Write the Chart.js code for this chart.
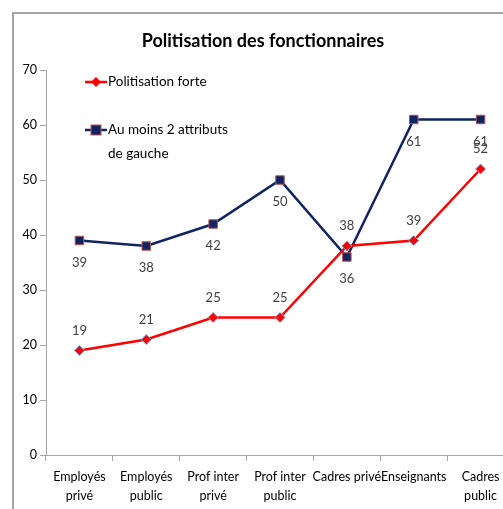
<!DOCTYPE html>
<html>
<head>
<meta charset="utf-8">
<script src="https://cdn.jsdelivr.net/npm/chart.js@4.4.0/dist/chart.umd.min.js"></script>
<style>
  html, body { margin: 0; padding: 0; background: #fff; overflow: hidden; width: 503px; height: 509px; }
  #box { position: absolute; left: 12px; top: 12px; width: 512px; height: 502px; border: 2px solid #a6a6a6; }
  canvas { display: block; }
</style>
</head>
<body>
<div id="box"><canvas id="chart" width="512" height="502"></canvas></div>
<script>
'use strict';

const categories = [
  ['Employés', 'privé'],
  ['Employés', 'public'],
  ['Prof inter', 'privé'],
  ['Prof inter', 'public'],
  'Cadres privé',
  'Enseignants',
  ['Cadres', 'public']
];
const politisationForte = [19, 21, 25, 25, 38, 39, 52];
const attributsGauche = [39, 38, 42, 50, 36, 61, 61];
const yTicks = [0, 10, 20, 30, 40, 50, 60, 70];

const FONT = "Lato, 'Open Sans', sans-serif";

// data labels + legend + title, drawn by hand
const extras = {
  id: 'extras',
  afterDatasetsDraw(chart) {
    let ctx = chart.ctx;
    ctx.save();
    ctx.font = '13px ' + FONT;
    ctx.fillStyle = '#404040';
    ctx.textAlign = 'center';
    ctx.textBaseline = 'middle';
    chart.getDatasetMeta(0).data.forEach((pt, i) => {
      ctx.fillText(politisationForte[i], pt.x, pt.y - 20);
    });
    chart.getDatasetMeta(1).data.forEach((pt, i) => {
      ctx.fillText(attributsGauche[i], pt.x, pt.y + 22);
    });

    // title
    ctx.fillStyle = '#000';
    ctx.font = 'bold 18px ' + FONT;
    ctx.fillText('Politisation des fonctionnaires', 249, 27);

    // legend
    let lx = 71, ly1 = 68, ly2 = 116;
    ctx.lineWidth = 2.5;
    ctx.strokeStyle = '#ff0000';
    ctx.beginPath(); ctx.moveTo(lx, ly1); ctx.lineTo(lx + 22, ly1); ctx.stroke();
    ctx.fillStyle = '#ff0000';
    ctx.beginPath();
    ctx.moveTo(lx + 11, ly1 - 5); ctx.lineTo(lx + 16, ly1); ctx.lineTo(lx + 11, ly1 + 5); ctx.lineTo(lx + 6, ly1);
    ctx.closePath(); ctx.fill();

    ctx.strokeStyle = '#0f2463';
    ctx.beginPath(); ctx.moveTo(lx, ly2); ctx.lineTo(lx + 22, ly2); ctx.stroke();
    ctx.fillStyle = '#0f2463';
    ctx.fillRect(lx + 6, ly2 - 5, 10, 10);
    ctx.lineWidth = 1;
    ctx.strokeStyle = '#c0504d';
    ctx.strokeRect(lx + 6, ly2 - 5, 10, 10);

    ctx.fillStyle = '#000';
    ctx.font = '13.5px ' + FONT;
    ctx.textAlign = 'left';
    ctx.fillText('Politisation forte', lx + 23, ly1);
    ctx.fillText('Au moins 2 attributs', lx + 23, ly2);
    ctx.fillText('de gauche', lx + 23, ly2 + 24);
    ctx.restore();
  }
};

new Chart(document.getElementById('chart'), {
  type: 'line',
  data: {
    labels: categories,
    datasets: [
      {
        label: 'Politisation forte',
        data: politisationForte,
        borderColor: '#ff0000',
        backgroundColor: '#ff0000',
        borderWidth: 2.5,
        pointStyle: 'rectRot',
        pointRadius: 5,
        pointBorderColor: '#7da7d9',
        pointBorderWidth: 1,
        pointBackgroundColor: '#ff0000',
        tension: 0
      },
      {
        label: 'Au moins 2 attributs de gauche',
        data: attributsGauche,
        borderColor: '#0f2463',
        backgroundColor: '#0f2463',
        borderWidth: 2.5,
        pointStyle: 'rect',
        pointRadius: 6,
        pointBorderColor: '#c0504d',
        pointBorderWidth: 1,
        pointBackgroundColor: '#0f2463',
        tension: 0
      }
    ]
  },
  options: {
    responsive: false,
    animation: false,
    layout: { padding: { top: 56, right: 12, left: 0, bottom: 0 } },
    plugins: {
      legend: { display: false },
      title: { display: false },
      tooltip: { enabled: false }
    },
    scales: {
      x: {
        offset: true,
        grid: { offset: true, drawOnChartArea: false, tickLength: 6, color: '#a6a6a6' },
        border: { color: '#a6a6a6' },
        ticks: { color: '#000', font: { family: FONT, size: 12.5, lineHeight: 1.5 }, padding: 7, maxRotation: 0, autoSkip: false },
        afterFit(scale) { scale.height = 61; }
      },
      y: {
        min: 0,
        max: 70,
        afterBuildTicks(scale) { scale.ticks = yTicks.map(v => ({ value: v })); },
        grid: { drawOnChartArea: false, tickLength: 6, color: '#a6a6a6' },
        border: { color: '#a6a6a6' },
        ticks: { color: '#000', font: { family: FONT, size: 12.5 }, padding: 3 },
        afterFit(scale) { scale.width = 32; }
      }
    }
  },
  plugins: [extras]
});
</script>
</body>
</html>
